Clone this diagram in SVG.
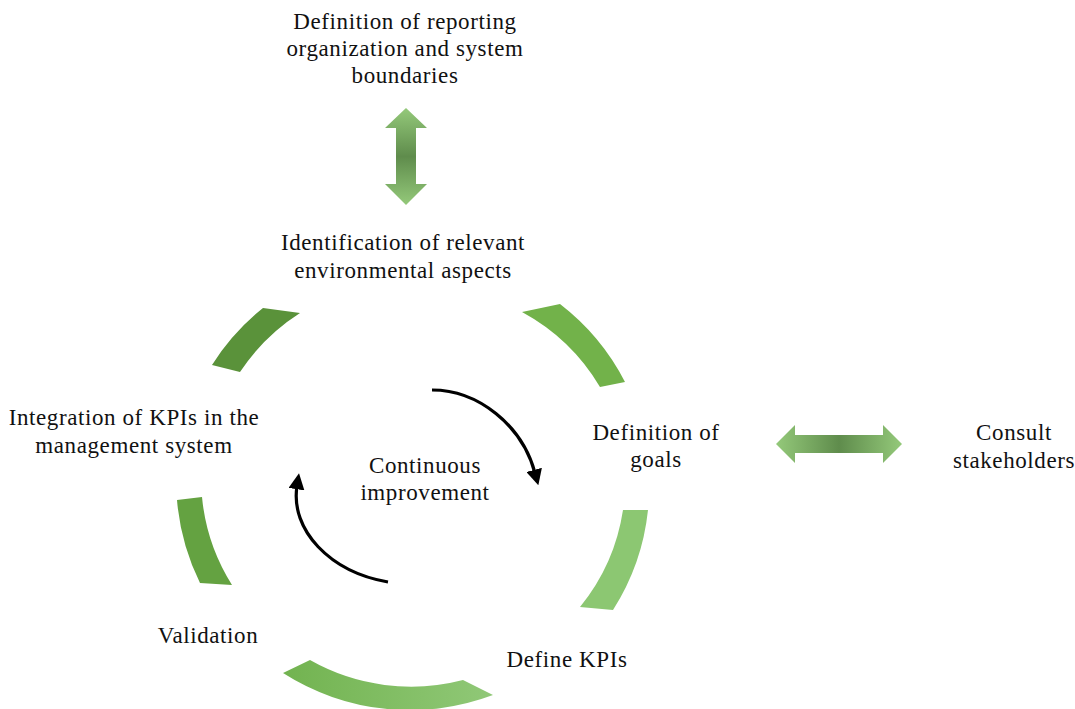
<svg xmlns="http://www.w3.org/2000/svg" width="1075" height="709" viewBox="0 0 1075 709">
<style>
text{font-family:"Liberation Serif","Times New Roman",serif;font-size:23px;letter-spacing:0.6px;fill:#111;text-anchor:middle}
.flow{fill:none;stroke:#000;stroke-width:3.2}
</style>
<defs>
<marker id="ah" viewBox="0 0 10 10" refX="2" refY="5" markerWidth="5" markerHeight="5" orient="auto" markerUnits="strokeWidth">
<path d="M0,0 L10,5 L0,10 Z" fill="#000"/>
</marker>
<linearGradient id="gv" x1="0" y1="0" x2="0" y2="1">
<stop offset="0" stop-color="#94c97a"/><stop offset="0.5" stop-color="#5f8c4c"/><stop offset="1" stop-color="#94c97a"/>
</linearGradient>
<linearGradient id="gh" x1="0" y1="0" x2="1" y2="0">
<stop offset="0" stop-color="#94c97a"/><stop offset="0.5" stop-color="#5f8c4c"/><stop offset="1" stop-color="#94c97a"/>
</linearGradient>
<linearGradient id="gb" x1="0" y1="0" x2="1" y2="0">
<stop offset="0" stop-color="#72b350"/><stop offset="1" stop-color="#90c877"/>
</linearGradient>
</defs>

<g id="ring">
<path id="arc-ul" d="M263,308 A234,232 0 0 0 212,365 L240,372 A204,202 0 0 1 300,313 Z" fill="#5a923a"/>
<path id="arc-ur" d="M522,312 L560,304 A234,232 0 0 1 625,382 L600,387 A204,202 0 0 0 522,312 Z" fill="#72b24a"/>
<path id="arc-r" d="M623,510 L648,510 A234,232 0 0 1 613,610 L580,607 A204,202 0 0 0 623,510 Z" fill="#8cc772"/>
<path id="arc-b" d="M283,673 L310,660 A204,202 0 0 0 463,680 L493,695 A234,232 0 0 1 283,673 Z" fill="url(#gb)"/>
<path id="arc-l" d="M177,500 L202,497 A204,202 0 0 0 232,585 L200,583 A234,232 0 0 1 177,500 Z" fill="#64a241"/>
</g>

<g id="connectors">
<path id="flow-top" class="flow" d="M432,390 C478,390 522,425 535,473" marker-end="url(#ah)"/>
<path id="flow-bottom" class="flow" d="M388,582 C330,572 290,530 297,486" marker-end="url(#ah)"/>
<path id="arrow-v" d="M406,108 L427,128 L416,128 L416,184 L427,184 L406,205 L385,184 L396,184 L396,128 L385,128 Z" fill="url(#gv)"/>
<path id="arrow-h" d="M776,444 L795,425 L795,435 L883,435 L883,425 L902,444 L883,463 L883,453 L795,453 L795,463 Z" fill="url(#gh)"/>
</g>

<g id="node-boundaries"><text x="405" y="29">Definition of reporting</text><text x="405" y="56">organization and system</text><text x="405" y="83">boundaries</text></g>
<g id="node-aspects"><text x="403" y="250">Identification of relevant</text><text x="403" y="278">environmental aspects</text></g>
<g id="node-goals"><text x="656" y="440">Definition of</text><text x="656" y="467">goals</text></g>
<g id="node-stakeholders"><text x="1014" y="440">Consult</text><text x="1014" y="468">stakeholders</text></g>
<g id="node-kpis"><text x="567" y="667">Define KPIs</text></g>
<g id="node-validation"><text x="208" y="643">Validation</text></g>
<g id="node-integration"><text x="134" y="425">Integration of KPIs in the</text><text x="134" y="453">management system</text></g>
<g id="node-center"><text x="425" y="473">Continuous</text><text x="425" y="500">improvement</text></g>
</svg>
